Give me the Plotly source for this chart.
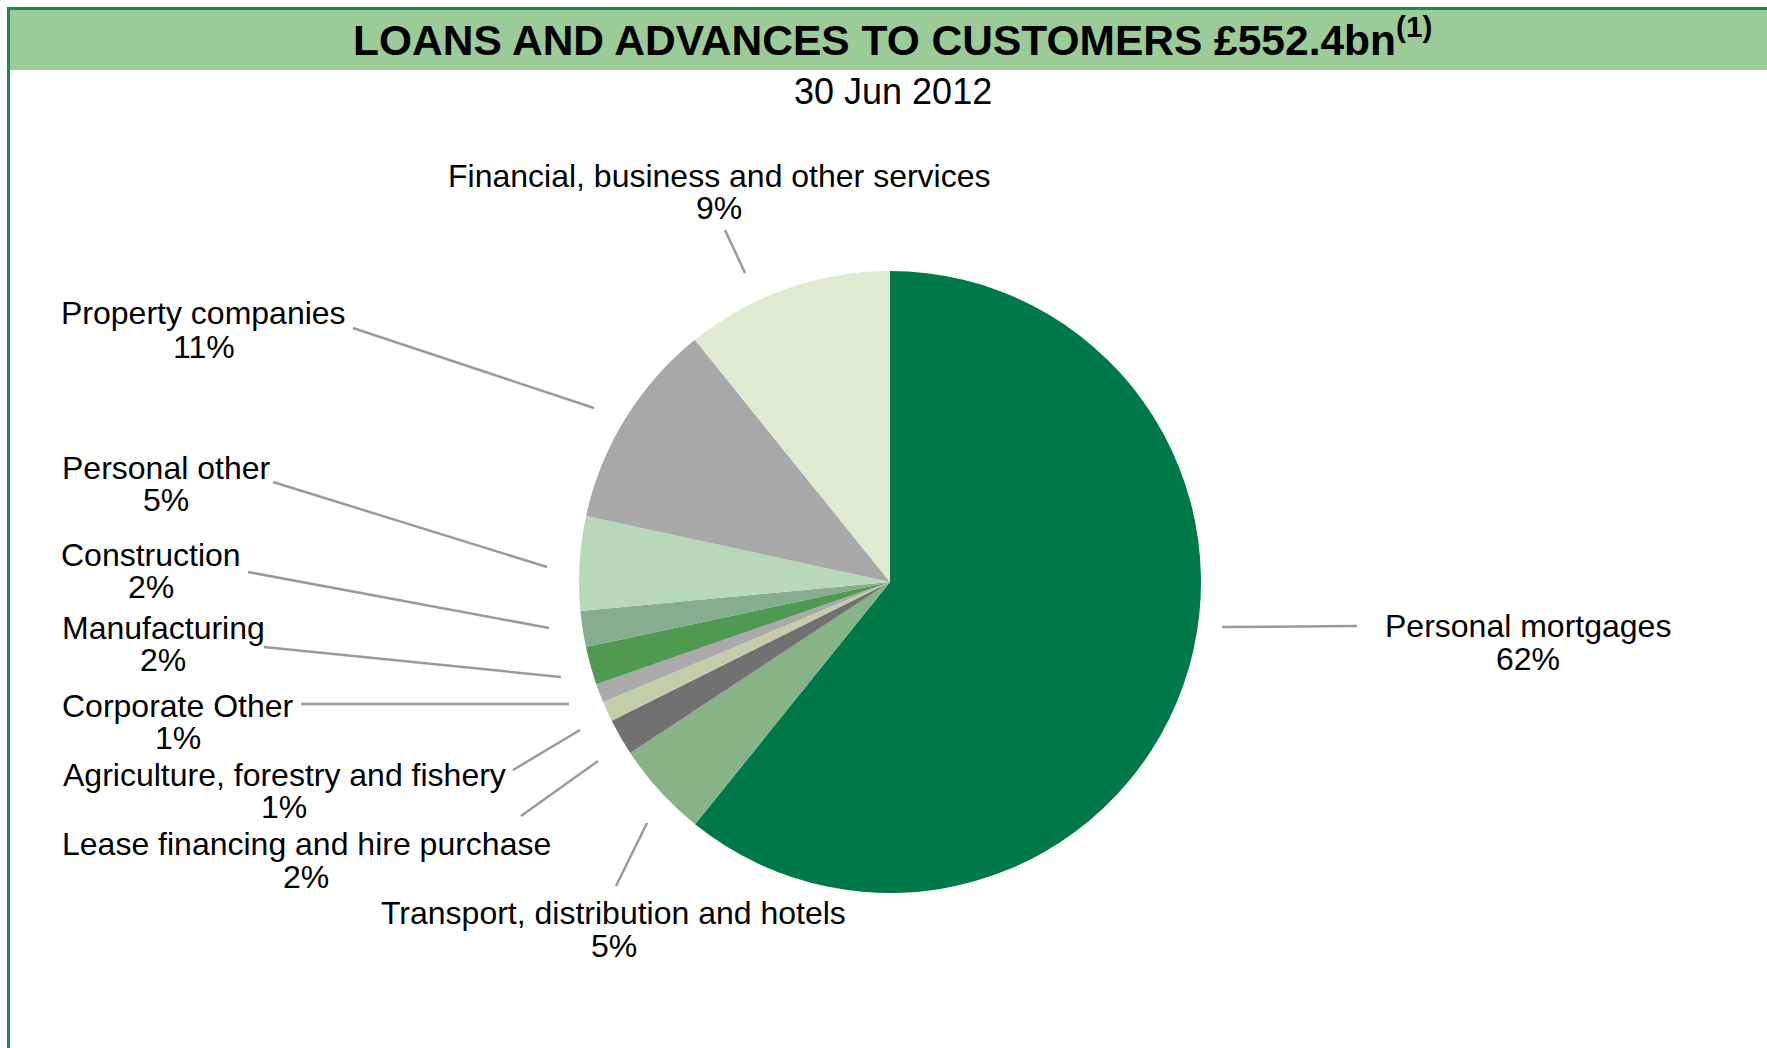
import plotly.graph_objects as go

# ---------------- data (clockwise from 12 o'clock) ----------------
categories = [
    "Personal mortgages",
    "Transport, distribution and hotels",
    "Lease financing and hire purchase",
    "Agriculture, forestry and fishery",
    "Corporate Other",
    "Manufacturing",
    "Construction",
    "Personal other",
    "Property companies",
    "Financial, business and other services",
]
# slice shares as drawn in the picture (%)
shares = [60.8, 4.96, 1.9, 1.06, 0.97, 1.98, 1.86, 4.9, 10.8, 10.8]
# percentage labels as printed on the chart
pct_labels = ["62%", "5%", "2%", "1%", "1%", "2%", "2%", "5%", "11%", "9%"]

title_text = "LOANS AND ADVANCES TO CUSTOMERS £552.4bn<sup>(1)</sup>"
subtitle_text = "30 Jun 2012"

# ---------------- styling / layout ----------------
colors = ["#00794A", "#87B487", "#717171", "#C3CEA8", "#AAAAAA",
          "#4F9A50", "#86AD8F", "#B8D9B9", "#A8A8A8", "#E1EAD0"]

W, H = 1767, 1048
FONT = "Liberation Sans, Arial, sans-serif"

def px(x):
    return x / W

def py(y):
    return 1 - y / H

# pie geometry (pixels)
CX, CY, R = 890, 582, 311

# label layout: (text centre x, name y, pct y, leader x0, y0, x1, y1) in pixels
label_layout = [
    (1527.5, 626, 659, 1222, 627, 1357, 626),
    (613.5, 913, 946, 616, 886, 647, 823),
    (306, 844, 877, 521, 816, 598, 761),
    (284, 775, 807, 513, 770, 580, 730),
    (177.5, 706, 738, 301, 704, 569, 704),
    (163, 628, 660, 264, 647, 561, 677),
    (151, 555, 587, 248, 572, 549, 628),
    (165.5, 468, 500, 273, 482, 547, 567),
    (203.5, 313, 346.5, 353, 328, 594, 408),
    (719, 176, 208.5, 725, 230, 745, 273),
]

fig = go.Figure()
fig.add_trace(go.Pie(
    labels=categories,
    values=shares,
    sort=False,
    direction="clockwise",
    rotation=0,
    marker=dict(colors=colors, line=dict(width=0)),
    textinfo="none",
    hoverinfo="label+value",
    showlegend=False,
    domain=dict(x=[px(CX - R), px(CX + R)], y=[py(CY + R), py(CY - R)]),
))

shapes = []
# frame: green title band, top rule and left rule
shapes.append(dict(type="rect", xref="paper", yref="paper",
                   x0=px(10), x1=1, y0=py(70), y1=py(10),
                   fillcolor="#9BCC98", line=dict(width=0), layer="below"))
shapes.append(dict(type="rect", xref="paper", yref="paper",
                   x0=px(7), x1=1, y0=py(10), y1=py(7),
                   fillcolor="#1A8A50", line=dict(width=0)))
shapes.append(dict(type="rect", xref="paper", yref="paper",
                   x0=px(7), x1=px(10), y0=0, y1=py(7),
                   fillcolor="#1A8A50", line=dict(width=0)))

annotations = [
    dict(text=title_text, x=px(892), y=py(37), xref="paper", yref="paper",
         xanchor="center", yanchor="middle", showarrow=False,
         font=dict(family=FONT, size=42.5, color="#000000", weight="bold")),
    dict(text=subtitle_text, x=px(893), y=py(92), xref="paper", yref="paper",
         xanchor="center", yanchor="middle", showarrow=False,
         font=dict(family=FONT, size=36, color="#000000")),
]

for name, pct, (tx, ny, pcy, lx0, ly0, lx1, ly1) in zip(categories, pct_labels, label_layout):
    annotations.append(dict(text=name, x=px(tx), y=py(ny), xref="paper", yref="paper",
                            xanchor="center", yanchor="middle", showarrow=False,
                            font=dict(family=FONT, size=32, color="#000000")))
    annotations.append(dict(text=pct, x=px(tx), y=py(pcy), xref="paper", yref="paper",
                            xanchor="center", yanchor="middle", showarrow=False,
                            font=dict(family=FONT, size=32, color="#000000")))
    shapes.append(dict(type="line", xref="paper", yref="paper",
                       x0=px(lx0), y0=py(ly0), x1=px(lx1), y1=py(ly1),
                       line=dict(color="#9A9A9A", width=2.5)))

fig.update_layout(
    width=W, height=H,
    margin=dict(l=0, r=0, t=0, b=0),
    paper_bgcolor="white",
    plot_bgcolor="white",
    shapes=shapes,
    annotations=annotations,
)

fig.write_html("out.html", config={"displayModeBar": False},
               post_script="document.body.style.margin='0';document.body.style.overflow='hidden';")
